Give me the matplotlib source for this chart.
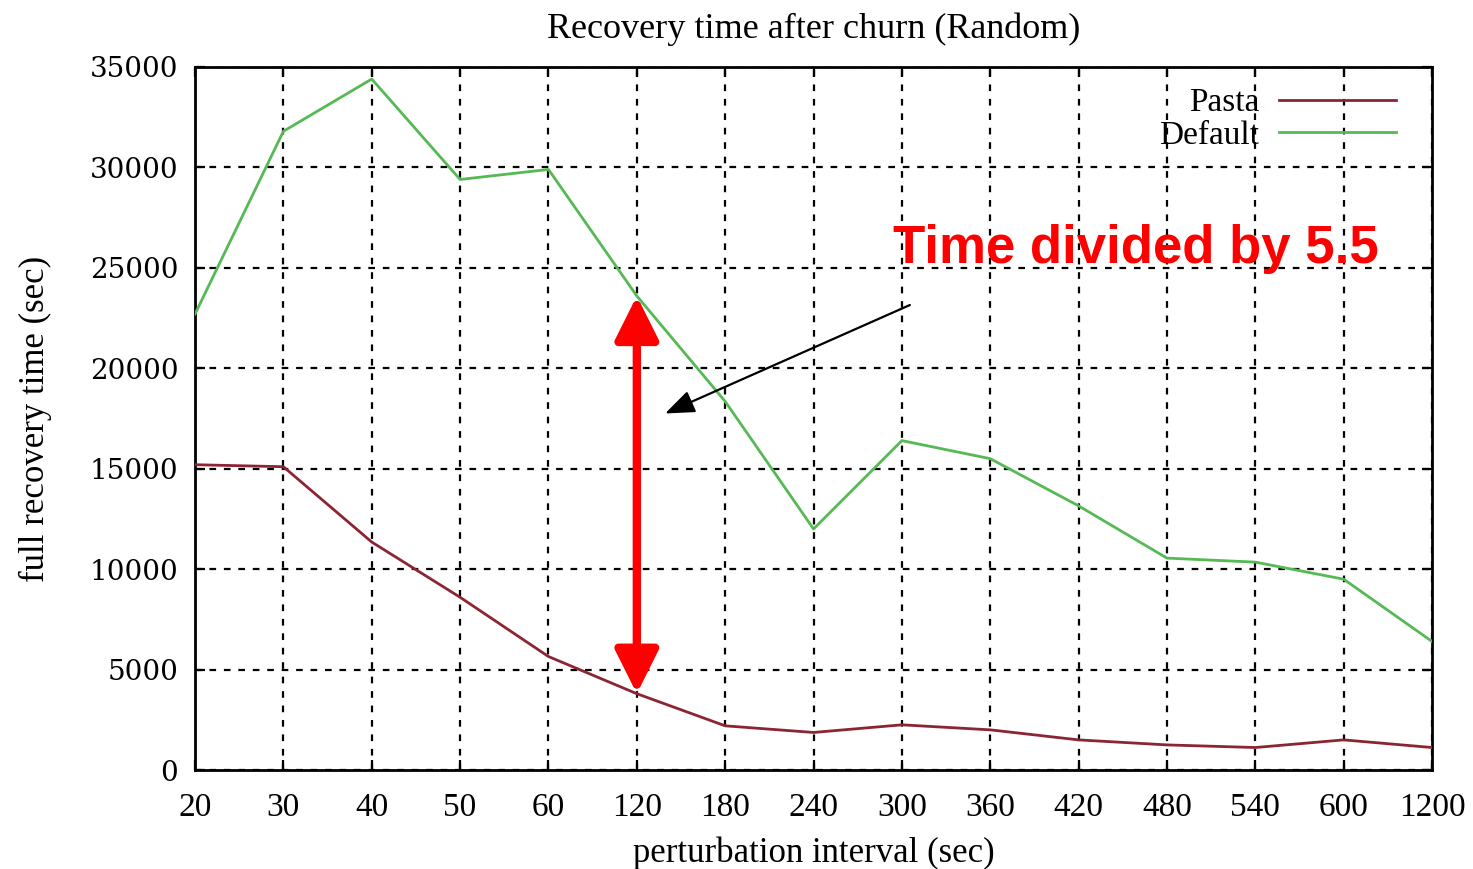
import matplotlib.pyplot as plt
import numpy as np

# perturbation intervals (categorical x axis)
intervals = ['20', '30', '40', '50', '60', '120', '180', '240', '300', '360', '420', '480', '540', '600', '1200']
# full recovery time in sec
pasta = [15200, 15100, 11350, 8600, 5650, 3800, 2200, 1870, 2250, 2000, 1500, 1250, 1120, 1500, 1120]
default = [22700, 31800, 34400, 29400, 29900, 23600, 18350, 12000, 16400, 15500, 13150, 10550, 10350, 9500, 6400]
yticks = [0, 5000, 10000, 15000, 20000, 25000, 30000, 35000]

pos = np.arange(len(intervals))

fig = plt.figure(figsize=(14.73, 8.69), dpi=100)
ax = fig.add_axes([0.1324, 0.1139, 0.8398, 0.809])

ax.plot(pos, pasta, color='#8b2534', lw=2.0, label='Pasta', zorder=3)
ax.plot(pos, default, color='#55b955', lw=2.0, label='Default', zorder=3)

ax.set_xlim(0, len(intervals) - 1)
ax.set_ylim(0, 35000)
ax.set_xticks(pos)
ax.set_xticklabels(intervals, fontfamily='Liberation Serif', fontsize=24)
ax.set_yticks(yticks)
ax.set_yticklabels([str(v) for v in yticks], fontfamily='DejaVu Serif', fontsize=20)

# gnuplot like frame / ticks / grid
ax.grid(True, color='black', linestyle=(0, (3, 3.5)), linewidth=1.6)
ax.tick_params(direction='in', length=7, width=1.6, top=True, right=True, labelcolor='black')
ax.tick_params(axis='x', pad=16)
ax.tick_params(axis='y', pad=12)
for s in ax.spines.values():
    s.set_linewidth(2.0)

ax.set_title('Recovery time after churn (Random)', fontfamily='Liberation Serif',
             fontsize=26, pad=21)
ax.set_xlabel('perturbation interval (sec)', fontfamily='Liberation Serif', fontsize=25, labelpad=10)
ax.set_ylabel('full recovery time (sec)', fontfamily='Liberation Serif', fontsize=25, labelpad=27)

leg = ax.legend(loc='upper right', bbox_to_anchor=(0.995, 1.013), frameon=False,
                markerfirst=False, handlelength=3.5, handletextpad=0.6, labelspacing=0.05,
                prop={'family': 'Liberation Serif', 'size': 24})

# annotation: red double arrow between the two curves at 120 sec
ax.annotate('', xy=(5, pasta[5]), xytext=(5, default[5]),
            arrowprops=dict(arrowstyle='<|-|>,head_length=1.2,head_width=0.6',
                            color='#ff0000', lw=6, shrinkA=0, shrinkB=0, mutation_scale=22),
            zorder=5)
ax.annotate('', xy=(5.32, 17750), xytext=(8.09, 23150),
            arrowprops=dict(arrowstyle='-|>,head_length=0.9,head_width=0.35',
                            color='black', lw=1.6, shrinkA=0, shrinkB=0, mutation_scale=20),
            zorder=5)
ax.text(0.771, 0.713, 'Time divided by 5.5', transform=fig.transFigure,
        fontfamily='Liberation Sans', fontweight='bold', fontsize=38, color='#ff0000',
        ha='center', va='center')

fig.savefig('out.png', dpi=100)
